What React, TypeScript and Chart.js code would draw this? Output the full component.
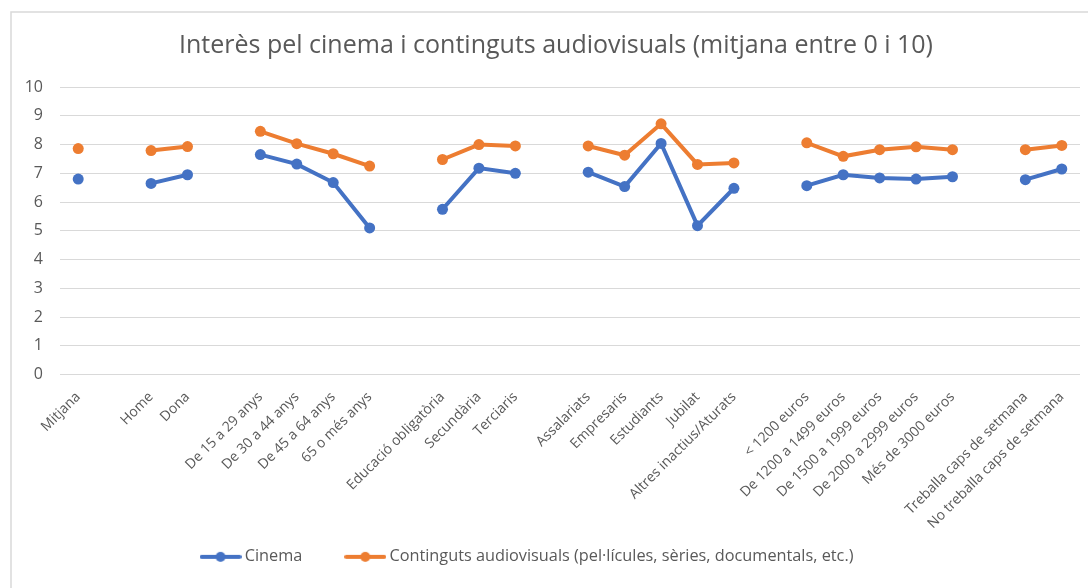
import React, { useEffect, useRef } from "react";
import { Chart, registerables } from "chart.js";

Chart.register(...registerables);

const categories: string[] = [
  "Mitjana", "",
  "Home", "Dona", "",
  "De 15 a 29 anys", "De 30 a 44 anys", "De 45 a 64 anys", "65 o més anys", "",
  "Educació obligatòria", "Secundària", "Terciaris", "",
  "Assalariats", "Empresaris", "Estudiants", "Jubilat", "Altres inactius/Aturats", "",
  "< 1200 euros", "De 1200 a 1499 euros", "De 1500 a 1999 euros", "De 2000 a 2999 euros", "Més de 3000 euros", "",
  "Treballa caps de setmana", "No treballa caps de setmana",
];

const cinema: (number | null)[] = [
  6.8, null,
  6.65, 6.95, null,
  7.65, 7.32, 6.68, 5.1, null,
  5.75, 7.18, 7.0, null,
  7.04, 6.54, 8.04, 5.18, 6.48, null,
  6.57, 6.95, 6.84, 6.8, 6.88, null,
  6.78, 7.15,
];

const audiovisual: (number | null)[] = [
  7.86, null,
  7.79, 7.93, null,
  8.46, 8.03, 7.68, 7.25, null,
  7.48, 8.0, 7.95, null,
  7.95, 7.63, 8.72, 7.31, 7.36, null,
  8.06, 7.59, 7.82, 7.92, 7.82, null,
  7.82, 7.97,
];

const seriesNames = ["Cinema", "Continguts audiovisuals (pel·lícules, sèries, documentals, etc.)"];
const titleText = "Interès pel cinema i continguts audiovisuals (mitjana entre 0 i 10)";
const yTicks = [0, 1, 2, 3, 4, 5, 6, 7, 8, 9, 10];

const BLUE = "#4472C4";
const ORANGE = "#ED7D31";
const TEXT = "#595959";
const GRID = "#d9d9d9";
const FONT = "'Open Sans', 'Noto Sans', sans-serif";

function legendImage(color: string): HTMLCanvasElement {
  const c = document.createElement("canvas");
  c.width = 42;
  c.height = 12;
  const g = c.getContext("2d")!;
  g.strokeStyle = color;
  g.lineWidth = 4;
  g.lineCap = "round";
  g.beginPath();
  g.moveTo(2, 6);
  g.lineTo(40, 6);
  g.stroke();
  g.fillStyle = color;
  g.beginPath();
  g.arc(21, 6, 5, 0, Math.PI * 2);
  g.fill();
  return c;
}

const framePlugin = {
  id: "frameAndTitle",
  beforeDraw(chart: any) {
    const ctx = chart.ctx;
    ctx.save();
    ctx.fillStyle = "#ffffff";
    ctx.fillRect(0, 0, chart.width, chart.height);
    ctx.strokeStyle = GRID;
    ctx.lineWidth = 1.5;
    ctx.strokeRect(11, 12, chart.width + 20, chart.height + 20);
    ctx.restore();
  },
  afterDraw(chart: any) {
    const ctx = chart.ctx;
    ctx.save();
    ctx.font = `25px ${FONT}`;
    ctx.fillStyle = TEXT;
    ctx.textAlign = "center";
    ctx.textBaseline = "middle";
    ctx.fillText(titleText, 556, 46);
    ctx.restore();
  },
};

export default function App() {
  const ref = useRef<HTMLCanvasElement | null>(null);

  useEffect(() => {
    if (!ref.current) return;
    const images = [legendImage(BLUE), legendImage(ORANGE)];
    const chart = new Chart(ref.current, {
      type: "line",
      data: {
        labels: categories,
        datasets: [
          {
            label: seriesNames[0],
            data: cinema,
            borderColor: BLUE,
            backgroundColor: BLUE,
            borderWidth: 4,
            pointRadius: 5.5,
            pointBorderWidth: 0,
            pointBackgroundColor: BLUE,
            spanGaps: false,
            tension: 0,
          },
          {
            label: seriesNames[1],
            data: audiovisual,
            borderColor: ORANGE,
            backgroundColor: ORANGE,
            borderWidth: 4,
            pointRadius: 5.5,
            pointBorderWidth: 0,
            pointBackgroundColor: ORANGE,
            spanGaps: false,
            tension: 0,
          },
        ],
      },
      options: {
        responsive: false,
        animation: false,
        devicePixelRatio: 1,
        layout: { padding: { left: -22, right: 8, top: 87, bottom: 13 } },
        plugins: {
          title: { display: false },
          tooltip: { enabled: false },
          legend: {
            position: "bottom",
            labels: {
              usePointStyle: true,
              pointStyleWidth: 32,
              padding: 47,
              color: TEXT,
              font: { family: FONT, size: 16.3 },
              generateLabels: (ch: any) =>
                ch.data.datasets.map((ds: any, i: number) => ({
                  text: ds.label,
                  fillStyle: ds.borderColor,
                  strokeStyle: ds.borderColor,
                  fontColor: TEXT,
                  lineWidth: 0,
                  pointStyle: images[i],
                  hidden: false,
                  datasetIndex: i,
                })),
            },
          },
        },
        scales: {
          x: {
            offset: true,
            grid: { display: false, offset: true },
            border: { display: false },
            ticks: {
              autoSkip: false,
              minRotation: 45,
              maxRotation: 45,
              color: TEXT,
              padding: 6,
              font: { family: FONT, size: 14 },
            },
            afterFit: (s: any) => {
              s.height = 127;
              // let the long rotated labels extend past the axis box, as in the reference
              s._computeLabelArea = () => undefined;
            },
          },
          y: {
            min: 0,
            max: 10,
            afterBuildTicks: (s: any) => {
              s.ticks = yTicks.map((v) => ({ value: v }));
            },
            grid: { color: GRID, lineWidth: 1, drawTicks: false },
            border: { display: false },
            ticks: {
              color: TEXT,
              padding: 17,
              font: { family: FONT, size: 16 },
            },
            afterFit: (s: any) => {
              s.width = 82;
            },
          },
        },
      },
      plugins: [framePlugin],
    });
    return () => chart.destroy();
  }, []);

  return (
    <div style={{ position: "fixed", left: 0, top: 0, width: 1088, height: 588, background: "#fff" }}>
      <canvas ref={ref} width={1088} height={588} style={{ display: "block" }} />
    </div>
  );
}
